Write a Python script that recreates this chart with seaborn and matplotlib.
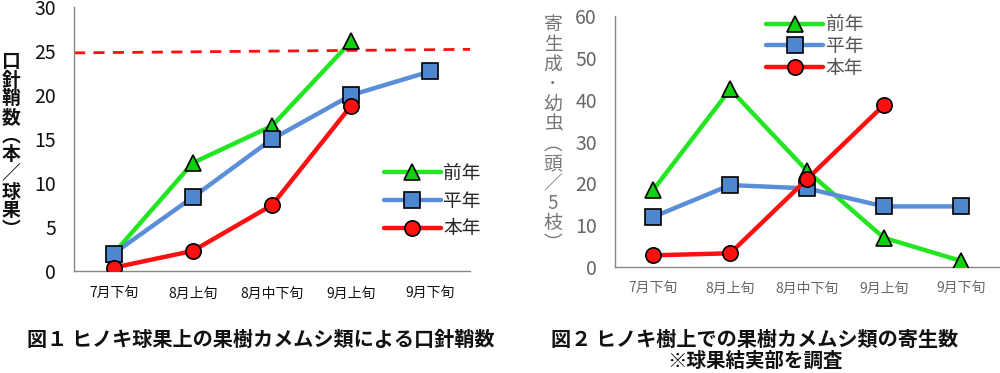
import numpy as np
import pandas as pd
import matplotlib
matplotlib.use("Agg")
import matplotlib.pyplot as plt
import seaborn as sns

# DATA
periods = ["7月下旬", "8月上旬", "8月中下旬", "9月上旬", "9月下旬"]
series_names = ["前年", "平年", "本年"]

fig1_prev = [2.0, 12.3, 16.5, 26.1, np.nan]
fig1_avg = [2.0, 8.4, 15.0, 20.0, 22.7]
fig1_this = [0.4, 2.3, 7.5, 18.8, np.nan]
fig1_threshold = [24.8, 25.2]

fig2_prev = [18.5, 42.5, 23.0, 7.0, 1.5]
fig2_avg = [12.0, 19.6, 18.8, 14.5, 14.5]
fig2_this = [2.8, 3.3, 21.0, 38.7, np.nan]

ylabel1 = "口針鞘数︵本／球果︶"
ylabel2 = "寄生成･幼虫︵頭／5枝︶"
caption1 = "図１ ヒノキ球果上の果樹カメムシ類による口針鞘数"
caption2 = "図２ ヒノキ樹上での果樹カメムシ類の寄生数"
caption3 = "※球果結実部を調査"

# STYLE
sns.set_style("white")
plt.rcParams["font.family"] = ["Noto Sans CJK JP", "DejaVu Sans"]

line_colors = {"前年": "#22E622", "平年": "#5B8ED8", "本年": "#FF1010"}
face_colors = {"前年": "#10D010", "平年": "#4F86D0", "本年": "#FF1010"}
markers = {"前年": "^", "平年": "s", "本年": "o"}
msizes = {"前年": 12, "平年": 11, "本年": 11}


def make_df(prev, avg, this):
    rows = []
    for name, vals in zip(series_names, [prev, avg, this]):
        for i, v in enumerate(vals):
            rows.append({"pos": i, "value": v, "series": name})
    return pd.DataFrame(rows)


def draw_panel(ax, df, ymax, ystep, tick_color):
    for name in series_names:
        sub = df[df["series"] == name].dropna()
        sns.lineplot(
            data=sub, x="pos", y="value", ax=ax,
            color=line_colors[name], linewidth=3.2,
            marker=markers[name], markersize=msizes[name],
            markerfacecolor=face_colors[name], markeredgecolor="black",
            markeredgewidth=1.2, label=name, zorder=3
        )
    ax.set_xlim(-0.5, 4.5)
    ax.set_ylim(0, ymax)
    ax.set_yticks(np.arange(0, ymax + 1, ystep))
    ax.set_xticks(np.arange(5))
    ax.set_xticklabels(periods, fontsize=10, color=tick_color)
    ax.set_xticks(np.arange(-0.5, 4.6, 1), minor=True)
    ax.tick_params(axis="x", which="major", length=0, pad=11)
    ax.tick_params(axis="x", which="minor", direction="in", length=4, color="#888888")
    ax.tick_params(axis="y", direction="out", length=4, color="#888888",
                   labelsize=14, labelcolor=tick_color, pad=9)
    ax.set_xlabel("")
    ax.set_ylabel("")
    for s in ["top", "right"]:
        ax.spines[s].set_visible(False)
    for s in ["left", "bottom"]:
        ax.spines[s].set_color("#888888")
        ax.spines[s].set_linewidth(1.0)


fig = plt.figure(figsize=(10, 3.73), dpi=100)

# FIGURE 1
ax1 = fig.add_axes([0.074, 0.273, 0.396, 0.708])
draw_panel(ax1, make_df(fig1_prev, fig1_avg, fig1_this), 30, 5, "#111111")
ax1.plot([-0.5, 4.5], fig1_threshold, color="#FF1010", linestyle=(0, (4, 3)),
         linewidth=2, zorder=2)
ax1.legend(loc="upper left", bbox_to_anchor=(0.76, 0.445), frameon=False,
           handlelength=3.0, fontsize=13.5, labelspacing=0.35, borderpad=0,
           handletextpad=0.15)

# FIGURE 2
ax2 = fig.add_axes([0.615, 0.284, 0.384, 0.673])
draw_panel(ax2, make_df(fig2_prev, fig2_avg, fig2_this), 60, 10, "#666666")
ax2.legend(loc="upper left", bbox_to_anchor=(0.37, 1.045), frameon=False,
           handlelength=3.0, fontsize=13.5, labelspacing=0.05, borderpad=0,
           handletextpad=0.15, labelcolor="#555555")

# AXIS LABELS (vertical)
fig.text(0.011, 0.61, "\n".join(ylabel1), ha="center", va="center",
         fontsize=13.5, fontweight="bold", linespacing=0.98, color="#111111")
fig.text(0.553, 0.64, "\n".join(ylabel2), ha="center", va="center",
         fontsize=13.5, linespacing=0.93, color="#777777")

# CAPTIONS
fig.text(0.261, 0.09, caption1, ha="center", va="center", fontsize=14.5,
         fontweight="bold", color="#111111")
fig.text(0.755, 0.09, caption2, ha="center", va="center", fontsize=14.5,
         fontweight="bold", color="#111111")
fig.text(0.755, 0.033, caption3, ha="center", va="center", fontsize=14,
         fontweight="bold", color="#111111")

fig.savefig("out.png", dpi=100)
